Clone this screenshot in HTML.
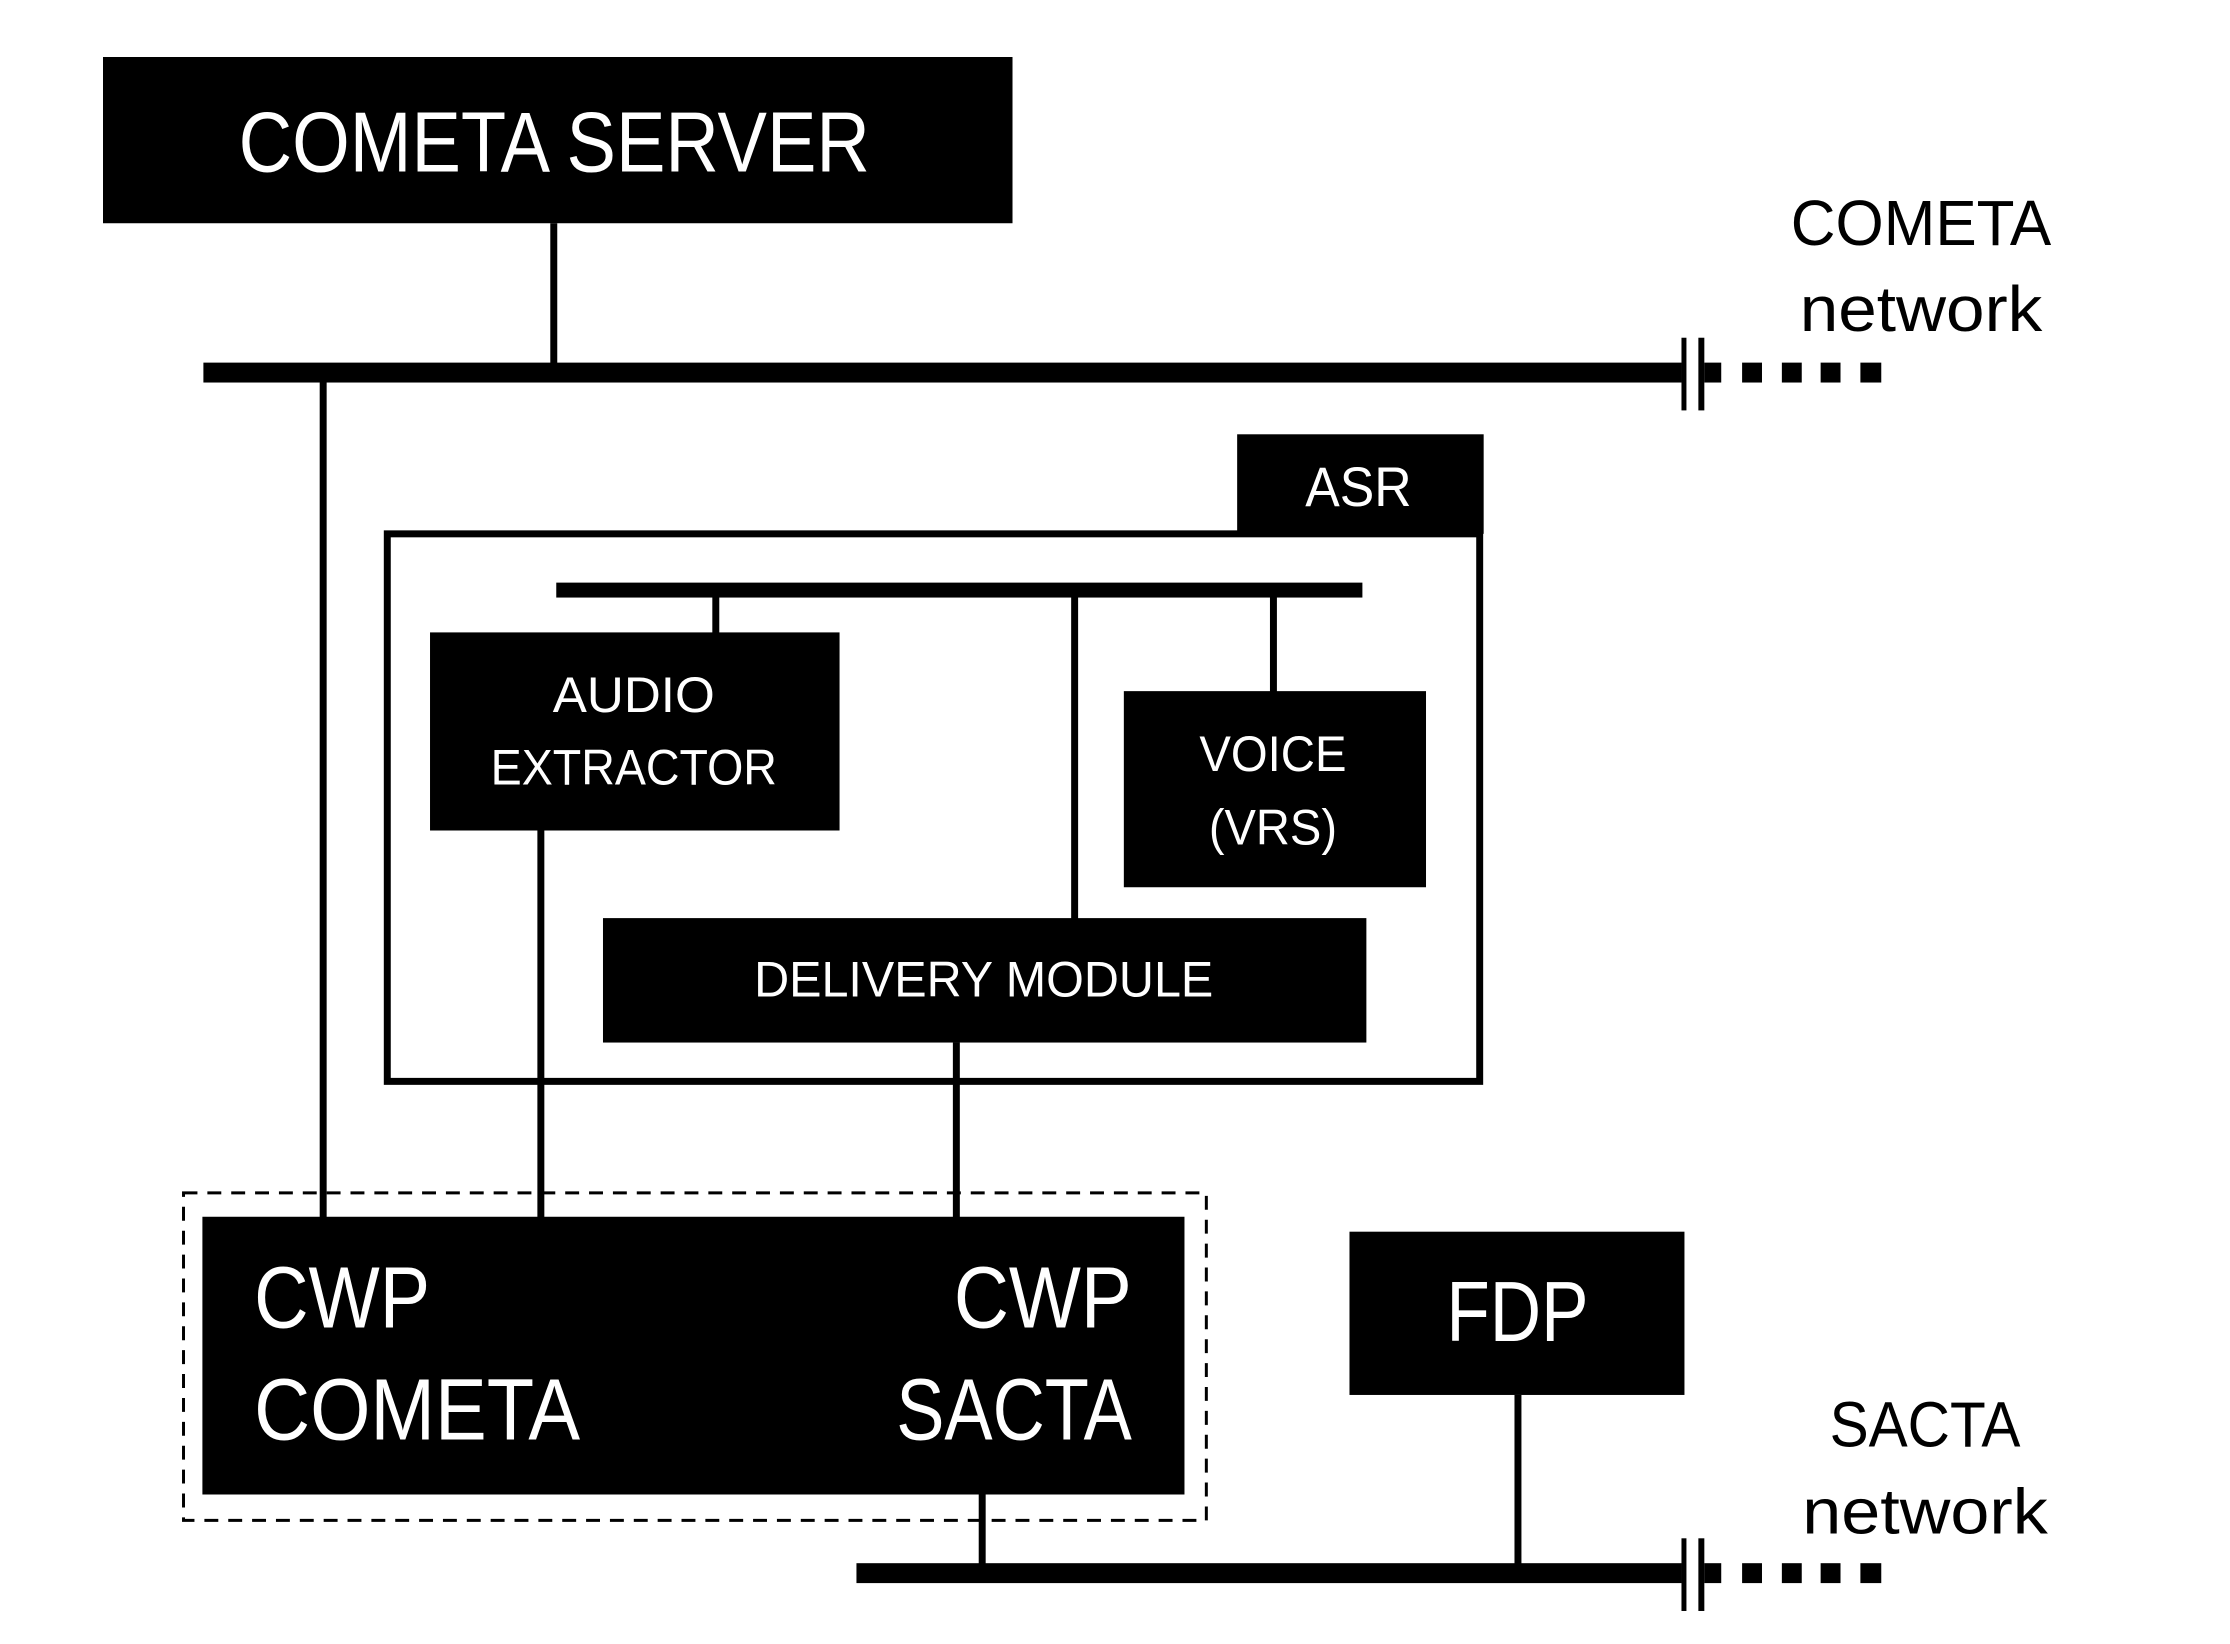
<!DOCTYPE html>
<html><head><meta charset="utf-8"><style>
html,body{margin:0;padding:0;background:#fff}
svg{display:block}
text{font-family:"Liberation Sans",sans-serif}
</style></head><body>
<svg width="2230" height="1644" viewBox="0 0 2230 1644" xmlns="http://www.w3.org/2000/svg">
<rect width="2230" height="1644" fill="#fff"/>
<g transform="translate(103,57) scale(0.994,0.9955) translate(-103,-57)">
<!-- server -->
<rect x="103" y="57" width="915" height="167" fill="#000"/>
<text x="557" y="172" fill="#fff" font-size="86" text-anchor="middle" textLength="635" lengthAdjust="spacingAndGlyphs">COMETA SERVER</text>
<rect x="553" y="224" width="7" height="150" fill="#000"/>
<!-- top bus -->
<rect x="204" y="364" width="1487" height="20" fill="#000"/>
<g transform="translate(8,0)">
<rect x="1683" y="339" width="5" height="73" fill="#000"/>
<rect x="1700" y="339" width="6" height="73" fill="#000"/>
<rect x="1706" y="364" width="17" height="20" fill="#000"/>
<rect x="1744" y="364" width="20" height="20" fill="#000"/>
<rect x="1784" y="364" width="20" height="20" fill="#000"/>
<rect x="1823" y="364" width="20" height="20" fill="#000"/>
<rect x="1863" y="364" width="21" height="20" fill="#000"/>
<text x="1924" y="246" font-size="64" text-anchor="middle" textLength="262" lengthAdjust="spacingAndGlyphs">COMETA</text>
<text x="1924" y="332" font-size="64" text-anchor="middle" textLength="244" lengthAdjust="spacingAndGlyphs">network</text>
</g>
<!-- left vertical -->
<rect x="321" y="380" width="7" height="845" fill="#000"/>
<!-- ASR -->
<rect x="1244" y="436" width="248" height="100" fill="#000"/>
<text x="1366" y="508" fill="#fff" font-size="56" text-anchor="middle" textLength="107" lengthAdjust="spacingAndGlyphs">ASR</text>
<rect x="389" y="536" width="1099" height="550" fill="none" stroke="#000" stroke-width="7"/>
<rect x="559" y="585" width="811" height="15" fill="#000"/>
<rect x="716" y="598" width="7" height="40" fill="#000"/>
<rect x="1077" y="598" width="7" height="326" fill="#000"/>
<rect x="1277" y="598" width="7" height="98" fill="#000"/>
<rect x="432" y="635" width="412" height="199" fill="#000"/>
<text x="637" y="715" fill="#fff" font-size="50" text-anchor="middle" textLength="163" lengthAdjust="spacingAndGlyphs">AUDIO</text>
<text x="637" y="788" fill="#fff" font-size="50" text-anchor="middle" textLength="288" lengthAdjust="spacingAndGlyphs">EXTRACTOR</text>
<rect x="1130" y="694" width="304" height="197" fill="#000"/>
<text x="1280" y="774" fill="#fff" font-size="50" text-anchor="middle" textLength="148" lengthAdjust="spacingAndGlyphs">VOICE</text>
<text x="1280" y="848" fill="#fff" font-size="50" text-anchor="middle" textLength="129" lengthAdjust="spacingAndGlyphs">(VRS)</text>
<rect x="606" y="922" width="768" height="125" fill="#000"/>
<text x="989" y="1001" fill="#fff" font-size="50" text-anchor="middle" textLength="462" lengthAdjust="spacingAndGlyphs">DELIVERY MODULE</text>
<rect x="540" y="834" width="7" height="390" fill="#000"/>
<rect x="958" y="1047" width="7" height="177" fill="#000"/>
<!-- CWP -->
<rect x="184" y="1198" width="1029" height="329" fill="none" stroke="#000" stroke-width="3" stroke-dasharray="14,10"/>
<rect x="203" y="1222" width="988" height="279" fill="#000"/>
<text x="255" y="1333" fill="#fff" font-size="88" textLength="177" lengthAdjust="spacingAndGlyphs">CWP</text>
<text x="255" y="1446" fill="#fff" font-size="88" textLength="328" lengthAdjust="spacingAndGlyphs">COMETA</text>
<text x="1138" y="1333" fill="#fff" font-size="88" text-anchor="end" textLength="179" lengthAdjust="spacingAndGlyphs">CWP</text>
<text x="1138" y="1446" fill="#fff" font-size="88" text-anchor="end" textLength="237" lengthAdjust="spacingAndGlyphs">SACTA</text>
<!-- FDP -->
<rect x="1357" y="1237" width="337" height="164" fill="#000"/>
<text x="1526" y="1347" fill="#fff" font-size="86" text-anchor="middle" textLength="143" lengthAdjust="spacingAndGlyphs">FDP</text>
<rect x="1523" y="1401" width="7" height="175" fill="#000"/>
<rect x="984" y="1501" width="7" height="75" fill="#000"/>
<!-- bottom bus -->
<rect x="861" y="1570" width="830" height="20" fill="#000"/>
<g transform="translate(8,0)">
<rect x="1683" y="1545" width="5" height="73" fill="#000"/>
<rect x="1700" y="1545" width="6" height="73" fill="#000"/>
<rect x="1706" y="1570" width="17" height="20" fill="#000"/>
<rect x="1744" y="1570" width="20" height="20" fill="#000"/>
<rect x="1784" y="1570" width="20" height="20" fill="#000"/>
<rect x="1823" y="1570" width="20" height="20" fill="#000"/>
<rect x="1863" y="1570" width="21" height="20" fill="#000"/>
<text x="1928" y="1453" font-size="64" text-anchor="middle" textLength="192" lengthAdjust="spacingAndGlyphs">SACTA</text>
<text x="1928" y="1540" font-size="64" text-anchor="middle" textLength="247" lengthAdjust="spacingAndGlyphs">network</text>
</g>
</g>
</svg>
</body></html>
